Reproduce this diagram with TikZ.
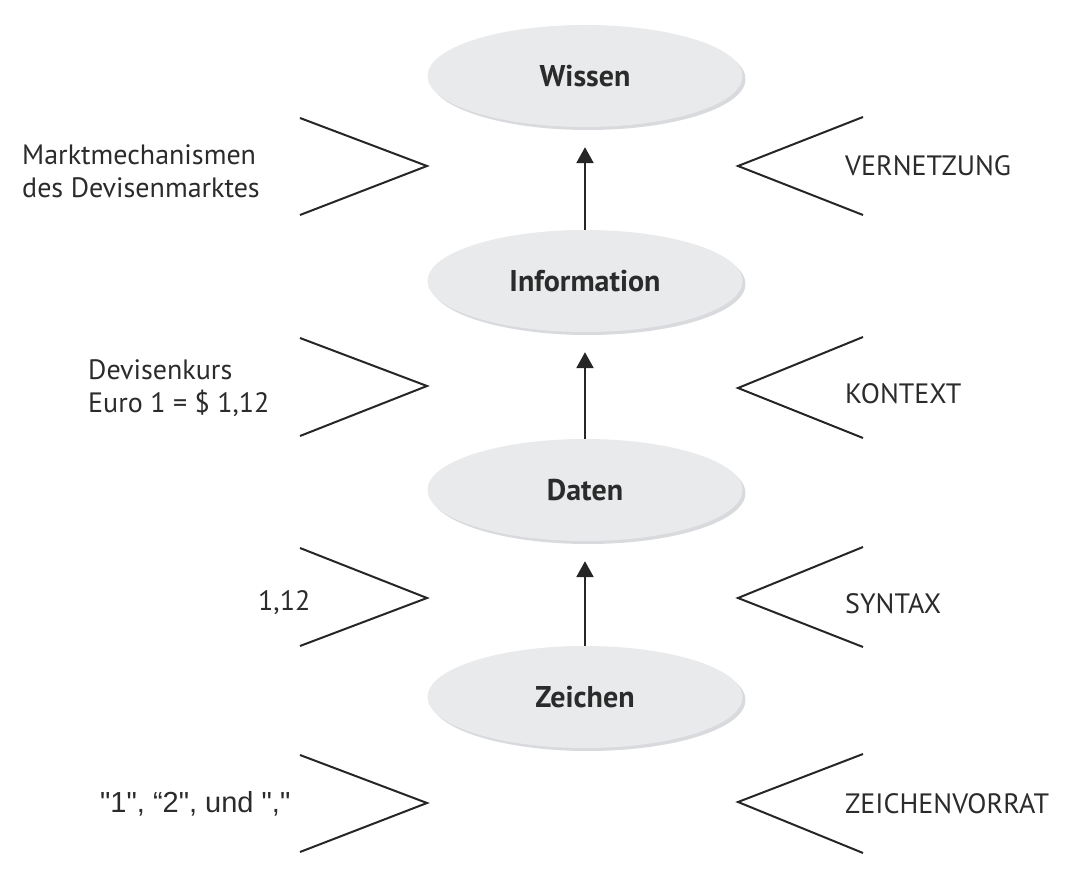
\documentclass[tikz,border=0pt]{standalone}
\usepackage{fontspec}
\setmainfont{PT Sans}
\newfontfamily\quotefont{Liberation Sans}
\usetikzlibrary{arrows.meta,shapes.geometric,shadows}
\definecolor{ink}{HTML}{2B2B2B}
\definecolor{stroke}{HTML}{262626}
\definecolor{cloud}{HTML}{E9EAEC}
\definecolor{cloudshade}{HTML}{D9DADD}
\tikzset{
  level/.style={ellipse,fill=cloud,draw=none,minimum width=315pt,minimum height=102pt,
    font=\fontsize{30}{34}\selectfont\bfseries,text=ink,
    drop shadow={shadow xshift=3pt,shadow yshift=-3pt,fill=cloudshade,opacity=1}},
  flow/.style={-{Triangle[length=16pt,width=17pt]},draw=stroke,line width=2.5pt,shorten >=20pt},
  chevron/.style={draw=stroke,line width=2pt,line join=miter},
  note/.style={anchor=west,align=left,text=ink,inner sep=0pt,font=\fontsize{28}{33}\selectfont}
}

\begin{document}
\begin{tikzpicture}[x=1pt,y=-1pt]
  \useasboundingbox (0,0) rectangle (1080,882);

  \node[level] (wissen) at (585,76) {Wissen};
  \node[level] (information) at (585,281) {Information};
  \node[level] (daten) at (585,490) {Daten};
  \node[level] (zeichen) at (585,697) {Zeichen};

  \draw[flow] (zeichen.north) -- (daten.south);
  \draw[flow] (daten.north) -- (information.south);
  \draw[flow] (information.north) -- (wissen.south);

  % left chevrons point towards the levels, right ones point back at them
  \draw[chevron] (300,118) -- (427,166) -- (300,215);
  \draw[chevron] (300,338) -- (427,386) -- (300,436);
  \draw[chevron] (300,548) -- (427,598) -- (300,646);
  \draw[chevron] (300,755) -- (427,803) -- (300,852);
  \draw[chevron] (863,117) -- (738,166) -- (863,215);
  \draw[chevron] (863,337) -- (738,388) -- (863,438);
  \draw[chevron] (863,547) -- (738,598) -- (863,647);
  \draw[chevron] (863,754) -- (738,802) -- (863,853);

  \node[note] (mechanismen) at (22,171) {Marktmechanismen\\des Devisenmarktes};
  \node[note] (devisenkurs) at (88,388) {Devisenkurs\\Euro 1 = \$ 1,12};
  \node[note] (kurswert) at (258,603) {1,12};
  \node[note,font=\quotefont\fontsize{29}{33}\selectfont] (zeichenliste) at (100,804)
    {"1", “2", und ","};

  \node[note] (vernetzung) at (845,166) {VERNETZUNG};
  \node[note] (kontext) at (845,394) {KONTEXT};
  \node[note] (syntax) at (845,604) {SYNTAX};
  \node[note] (vorrat) at (845,804) {ZEICHENVORRAT};
\end{tikzpicture}
\end{document}
